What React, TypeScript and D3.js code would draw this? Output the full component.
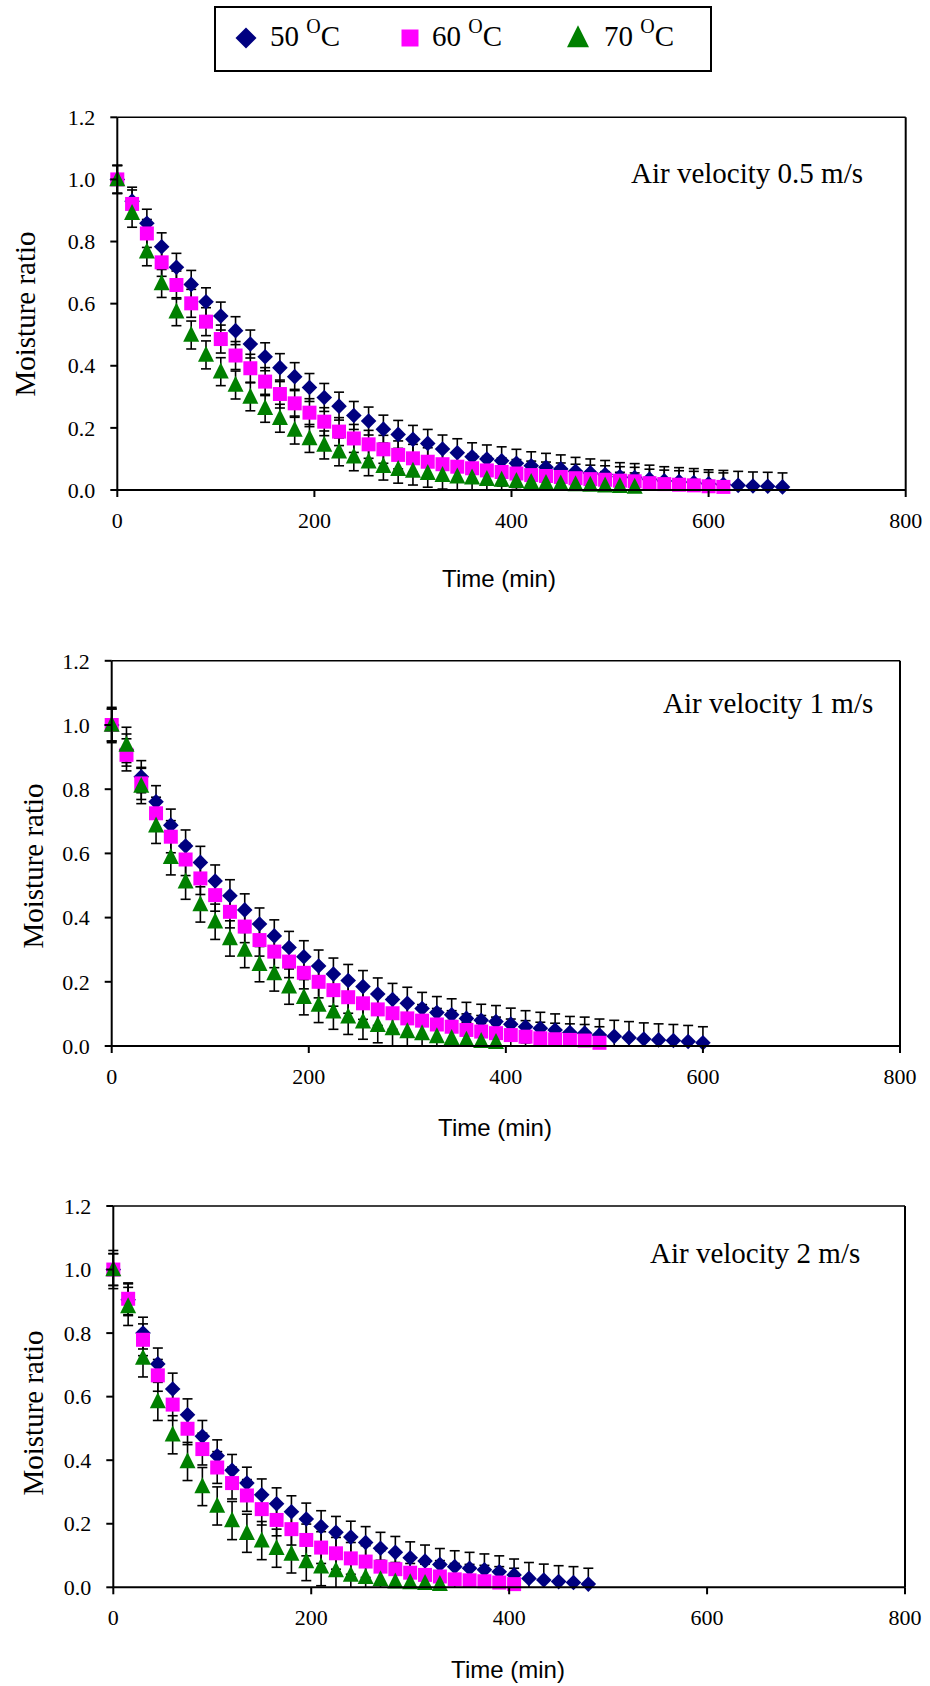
import React from 'react';
import * as d3 from 'd3';

// ---------- data ----------
const TIME = [0, 15, 30, 45, 60, 75, 90, 105, 120, 135, 150, 165, 180, 195, 210, 225, 240, 255, 270, 285, 300, 315, 330, 345, 360, 375, 390, 405, 420, 435, 450, 465, 480, 495, 510, 525, 540, 555, 570, 585, 600, 615, 630, 645, 660, 675];

// Air velocity 0.5 m/s
const MR50_V05 = [1.0, 0.93, 0.859, 0.783, 0.717, 0.662, 0.606, 0.56, 0.513, 0.47, 0.429, 0.394, 0.365, 0.33, 0.298, 0.27, 0.24, 0.222, 0.196, 0.179, 0.163, 0.15, 0.132, 0.12, 0.107, 0.1, 0.094, 0.086, 0.078, 0.073, 0.068, 0.06, 0.055, 0.05, 0.043, 0.04, 0.035, 0.03, 0.027, 0.024, 0.02, 0.018, 0.015, 0.013, 0.012, 0.01];
const MR60_V05 = [1.0, 0.921, 0.826, 0.733, 0.66, 0.601, 0.542, 0.486, 0.433, 0.392, 0.349, 0.309, 0.279, 0.249, 0.22, 0.188, 0.166, 0.147, 0.131, 0.113, 0.102, 0.091, 0.083, 0.075, 0.07, 0.063, 0.058, 0.053, 0.048, 0.045, 0.042, 0.038, 0.035, 0.033, 0.03, 0.028, 0.022, 0.019, 0.017, 0.015, 0.012, 0.01];
const MR70_V05 = [1.0, 0.891, 0.767, 0.665, 0.574, 0.499, 0.435, 0.381, 0.338, 0.3, 0.263, 0.231, 0.193, 0.166, 0.145, 0.123, 0.107, 0.091, 0.077, 0.067, 0.061, 0.054, 0.048, 0.043, 0.04, 0.035, 0.032, 0.028, 0.025, 0.022, 0.02, 0.018, 0.016, 0.014, 0.012, 0.01];

// Air velocity 1 m/s
const MR50_V1 = [1.0, 0.922, 0.839, 0.761, 0.688, 0.623, 0.572, 0.514, 0.468, 0.424, 0.38, 0.343, 0.307, 0.278, 0.249, 0.224, 0.204, 0.185, 0.162, 0.145, 0.133, 0.117, 0.104, 0.097, 0.086, 0.08, 0.076, 0.068, 0.06, 0.055, 0.05, 0.042, 0.04, 0.034, 0.03, 0.026, 0.022, 0.019, 0.017, 0.014, 0.01];
const MR60_V1 = [1.0, 0.907, 0.818, 0.725, 0.652, 0.581, 0.522, 0.47, 0.418, 0.372, 0.33, 0.294, 0.263, 0.228, 0.2, 0.174, 0.152, 0.133, 0.114, 0.102, 0.086, 0.079, 0.067, 0.06, 0.05, 0.045, 0.04, 0.034, 0.029, 0.024, 0.021, 0.019, 0.017, 0.01];
const MR70_V1 = [1.0, 0.938, 0.81, 0.686, 0.588, 0.512, 0.441, 0.387, 0.335, 0.299, 0.255, 0.226, 0.185, 0.152, 0.128, 0.107, 0.091, 0.076, 0.065, 0.055, 0.045, 0.039, 0.03, 0.024, 0.019, 0.015, 0.012];

// Air velocity 2 m/s
const MR50_V2 = [1.0, 0.905, 0.8, 0.703, 0.624, 0.543, 0.475, 0.414, 0.368, 0.328, 0.291, 0.263, 0.238, 0.215, 0.191, 0.173, 0.158, 0.141, 0.123, 0.11, 0.093, 0.083, 0.072, 0.065, 0.06, 0.055, 0.049, 0.039, 0.028, 0.023, 0.018, 0.015, 0.01];
const MR60_V2 = [1.0, 0.908, 0.779, 0.667, 0.575, 0.499, 0.435, 0.377, 0.328, 0.289, 0.246, 0.212, 0.183, 0.149, 0.125, 0.107, 0.091, 0.081, 0.065, 0.057, 0.046, 0.039, 0.034, 0.025, 0.022, 0.019, 0.015, 0.01];
const MR70_V2 = [1.0, 0.884, 0.722, 0.585, 0.48, 0.396, 0.317, 0.256, 0.21, 0.17, 0.147, 0.123, 0.105, 0.081, 0.065, 0.053, 0.039, 0.032, 0.025, 0.018, 0.015, 0.013, 0.01];

// error bar half-widths per series (50, 60, 70 °C)
const ERR_V05 = [0.045, 0.045, 0.045];
const ERR_V1 = [0.05, 0.05, 0.055];
const ERR_V2 = [0.05, 0.05, 0.06];

const X_TICKS = [0, 200, 400, 600, 800];
const Y_TICKS = [0, 0.2, 0.4, 0.6, 0.8, 1.0, 1.2];
const SERIES_TEMPS = ['50', '60', '70'];
const PANEL_LABELS = ['Air velocity 0.5 m/s', 'Air velocity 1 m/s', 'Air velocity 2 m/s'];
const X_TITLE = 'Time (min)';
const Y_TITLE = 'Moisture ratio';

// ---------- style / layout ----------
const COLORS = ['#000080', '#FF00FF', '#008000'];
const SERIF = '"Liberation Serif", "Times New Roman", serif';
const SANS = '"Liberation Sans", Arial, sans-serif';

const PANELS = [
  { data: [MR50_V05, MR60_V05, MR70_V05], err: ERR_V05, label: PANEL_LABELS[0],
    left: 117.3, right: 905.7, top: 117.3, bottom: 490,
    annX: 631, annY: 183, yTitleX: 35, yTitleY: 314, xTitleX: 499, xTitleY: 587 },
  { data: [MR50_V1, MR60_V1, MR70_V1], err: ERR_V1, label: PANEL_LABELS[1],
    left: 111.7, right: 900, top: 660.8, bottom: 1046,
    annX: 663, annY: 713, yTitleX: 43, yTitleY: 866, xTitleX: 495, xTitleY: 1136 },
  { data: [MR50_V2, MR60_V2, MR70_V2], err: ERR_V2, label: PANEL_LABELS[2],
    left: 113.3, right: 905, top: 1206, bottom: 1587.3,
    annX: 650, annY: 1263, yTitleX: 43, yTitleY: 1413, xTitleX: 508, xTitleY: 1678 },
];

function markerPath(kind: number, s: number): string {
  if (kind === 0) return `M0,${-s}L${s},0L0,${s}L${-s},0Z`;
  if (kind === 1) return `M${-s},${-s}H${s}V${s}H${-s}Z`;
  return `M0,${-s * 1.15}L${s},${s * 0.85}L${-s},${s * 0.85}Z`;
}

const MARKER_SIZE = [7.8, 7, 8];

function Panel({ p }: { p: typeof PANELS[number] }) {
  const x = d3.scaleLinear().domain([0, 800]).range([p.left, p.right]);
  const y = d3.scaleLinear().domain([0, 1.2]).range([p.bottom, p.top]);
  const fmt = d3.format('.1f');
  const cap = 5;
  return (
    <g>
      {/* frame */}
      <line x1={p.left} x2={p.right} y1={p.top} y2={p.top} stroke="#000" strokeWidth={1.5} />
      <line x1={p.right} x2={p.right} y1={p.top} y2={p.bottom} stroke="#000" strokeWidth={2} />
      {/* error bars */}
      {p.data.map((series, si) => (
        <g key={'e' + si} stroke="#000" strokeWidth={1.6}>
          {series.map((v, i) => {
            const cx = x(TIME[i]);
            const y1 = y(v + p.err[si]);
            const y0 = y(Math.max(0, v - p.err[si]));
            return (
              <g key={i}>
                <line x1={cx} x2={cx} y1={y1} y2={y0} />
                <line x1={cx - cap} x2={cx + cap} y1={y1} y2={y1} />
                {v - p.err[si] >= 0 && <line x1={cx - cap} x2={cx + cap} y1={y0} y2={y0} />}
              </g>
            );
          })}
        </g>
      ))}
      {/* markers */}
      {p.data.map((series, si) => (
        <g key={'m' + si} fill={COLORS[si]}>
          {series.map((v, i) => (
            <path key={i} transform={`translate(${x(TIME[i])},${y(v)})`} d={markerPath(si, MARKER_SIZE[si])} />
          ))}
        </g>
      ))}
      {/* axes */}
      <line x1={p.left} x2={p.left} y1={p.top} y2={p.bottom} stroke="#000" strokeWidth={2} />
      <line x1={p.left} x2={p.right} y1={p.bottom} y2={p.bottom} stroke="#000" strokeWidth={2} />
      {Y_TICKS.map((t) => (
        <g key={'y' + t}>
          <line x1={p.left - 7} x2={p.left} y1={y(t)} y2={y(t)} stroke="#000" strokeWidth={2} />
          <text x={p.left - 22} y={y(t)} dy="0.35em" textAnchor="end" fontFamily={SERIF} fontSize={22} fill="#000">
            {fmt(t)}
          </text>
        </g>
      ))}
      {X_TICKS.map((t) => (
        <g key={'x' + t}>
          <line x1={x(t)} x2={x(t)} y1={p.bottom} y2={p.bottom + 7} stroke="#000" strokeWidth={2} />
          <text x={x(t)} y={p.bottom + 38} textAnchor="middle" fontFamily={SERIF} fontSize={22} fill="#000">
            {t}
          </text>
        </g>
      ))}
      <text x={p.annX} y={p.annY} fontFamily={SERIF} fontSize={29} fill="#000">{p.label}</text>
      <text transform={`translate(${p.yTitleX},${p.yTitleY}) rotate(-90)`} textAnchor="middle" fontFamily={SERIF} fontSize={29} fill="#000">
        {Y_TITLE}
      </text>
      <text x={p.xTitleX} y={p.xTitleY} textAnchor="middle" fontFamily={SANS} fontSize={24} fill="#000">{X_TITLE}</text>
    </g>
  );
}

const LEGEND_ITEMS = [
  { mx: 246, tx: 270 },
  { mx: 410, tx: 432 },
  { mx: 578, tx: 604 },
];
const LEGEND_MARKER = [10.5, 8.5, 11];

export default function App() {
  return (
    <svg width={930} height={1686} style={{ position: 'absolute', left: 0, top: 0, background: '#fff' }}>
      <rect x={0} y={0} width={930} height={1686} fill="#fff" />
      {/* legend */}
      <rect x={215} y={7} width={496} height={64} fill="#fff" stroke="#000" strokeWidth={2} />
      {LEGEND_ITEMS.map((it, i) => (
        <g key={i}>
          <path transform={`translate(${it.mx},38)`} d={markerPath(i, LEGEND_MARKER[i])} fill={COLORS[i]} />
          <text x={it.tx} y={46} fontFamily={SERIF} fontSize={29} fill="#000">
            {SERIES_TEMPS[i]}{' '}
            <tspan fontSize={20} dy={-13}>O</tspan>
            <tspan dy={13}>C</tspan>
          </text>
        </g>
      ))}
      {PANELS.map((p, i) => (
        <Panel key={i} p={p} />
      ))}
    </svg>
  );
}
